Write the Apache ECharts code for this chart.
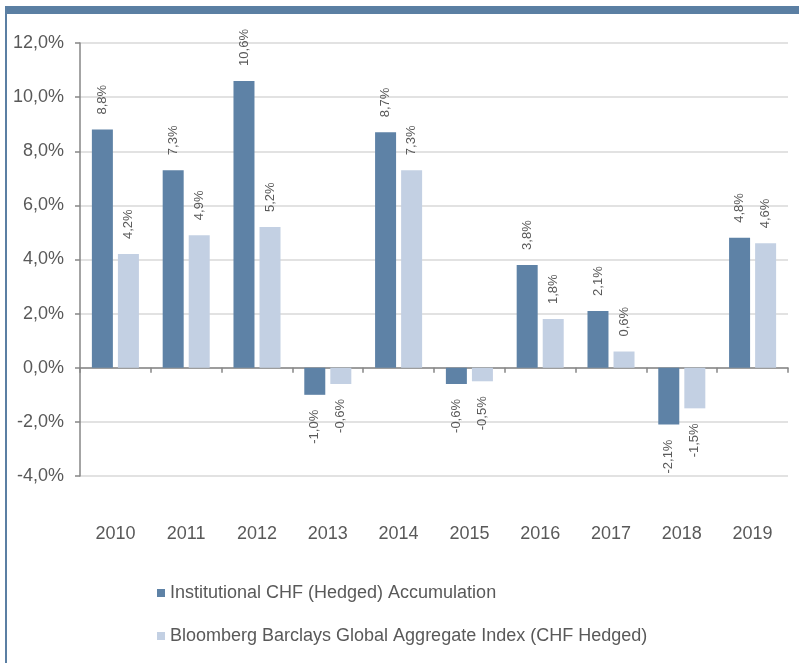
<!DOCTYPE html>
<html>
<head>
<meta charset="utf-8">
<script src="https://cdn.jsdelivr.net/npm/echarts@6/dist/echarts.min.js"></script>
<style>
	html,body{margin:0;padding:0;background:#fff}
	#chart{width:799px;height:663px}
</style>
</head>
<body>
<div id="chart"></div>
<script>
var years = ['2010','2011','2012','2013','2014','2015','2016','2017','2018','2019'];
var fundName = 'Institutional CHF (Hedged) Accumulation';
var indexName = 'Bloomberg Barclays Global Aggregate Index (CHF Hedged)';
var fundValues = [8.8, 7.3, 10.6, -1.0, 8.7, -0.6, 3.8, 2.1, -2.1, 4.8];
var indexValues = [4.2, 4.9, 5.2, -0.6, 7.3, -0.5, 1.8, 0.6, -1.5, 4.6];

var darkBlue = '#5e82a6';
var lightBlue = '#c3d0e3';
var textGrey = '#595959';

function pct(v){
	return v.toFixed(1).replace('.', ',') + '%';
}

// negative bars get their label below the bar end
function withLabels(values){
	return values.map(function(v){
		if(v < 0){
			return {value: v, label: {position: 'bottom', align: 'right'}};
		}
		return v;
	});
}

var barLabel = {
	show: true,
	position: 'top',
	rotate: 90,
	align: 'left',
	verticalAlign: 'middle',
	distance: 15,
	fontFamily: 'Liberation Sans',
	fontSize: 13,
	color: textGrey,
	formatter: function(p){ return pct(p.value); }
};

var myChart = echarts.init(document.getElementById('chart'));
var option = {
	animation: false,
	graphic: [
		{type: 'rect', shape: {x: 6, y: 6, width: 793, height: 8}, style: {fill: '#5b7fa3'}},
		{type: 'rect', shape: {x: 5, y: 6, width: 2, height: 657}, style: {fill: '#5b7fa3'}}
	],
	grid: {left: 80, right: 11, top: 43, bottom: 187},
	legend: {
		orient: 'vertical',
		left: 152,
		top: 579,
		itemWidth: 8,
		itemHeight: 8,
		itemGap: 25,
		icon: 'rect',
		data: [fundName, indexName],
		textStyle: {fontFamily: 'Liberation Sans', fontSize: 18, color: textGrey}
	},
	xAxis: {
		type: 'category',
		data: years,
		axisLine: {onZero: true, lineStyle: {color: '#868686', width: 1.5}},
		axisTick: {show: true, length: 5, lineStyle: {color: '#868686', width: 1.5}},
		axisLabel: {margin: 49, fontFamily: 'Liberation Sans', fontSize: 18, color: textGrey}
	},
	yAxis: {
		type: 'value',
		min: -4,
		max: 12,
		interval: 2,
		axisLine: {show: true, lineStyle: {color: '#868686', width: 1.5}},
		axisTick: {show: true, length: 5, lineStyle: {color: '#868686', width: 1.5}},
		splitLine: {lineStyle: {color: '#d9d9d9', width: 1.5}},
		axisLabel: {
			margin: 16,
			fontFamily: 'Liberation Sans',
			fontSize: 18,
			color: textGrey,
			formatter: function(v){ return pct(v); }
		}
	},
	series: [
		{
			name: fundName,
			type: 'bar',
			barWidth: 21,
			barGap: '24%',
			itemStyle: {color: darkBlue},
			label: barLabel,
			data: withLabels(fundValues)
		},
		{
			name: indexName,
			type: 'bar',
			barWidth: 21,
			barGap: '24%',
			itemStyle: {color: lightBlue},
			label: barLabel,
			data: withLabels(indexValues)
		}
	]
};
myChart.setOption(option);
</script>
</body>
</html>
